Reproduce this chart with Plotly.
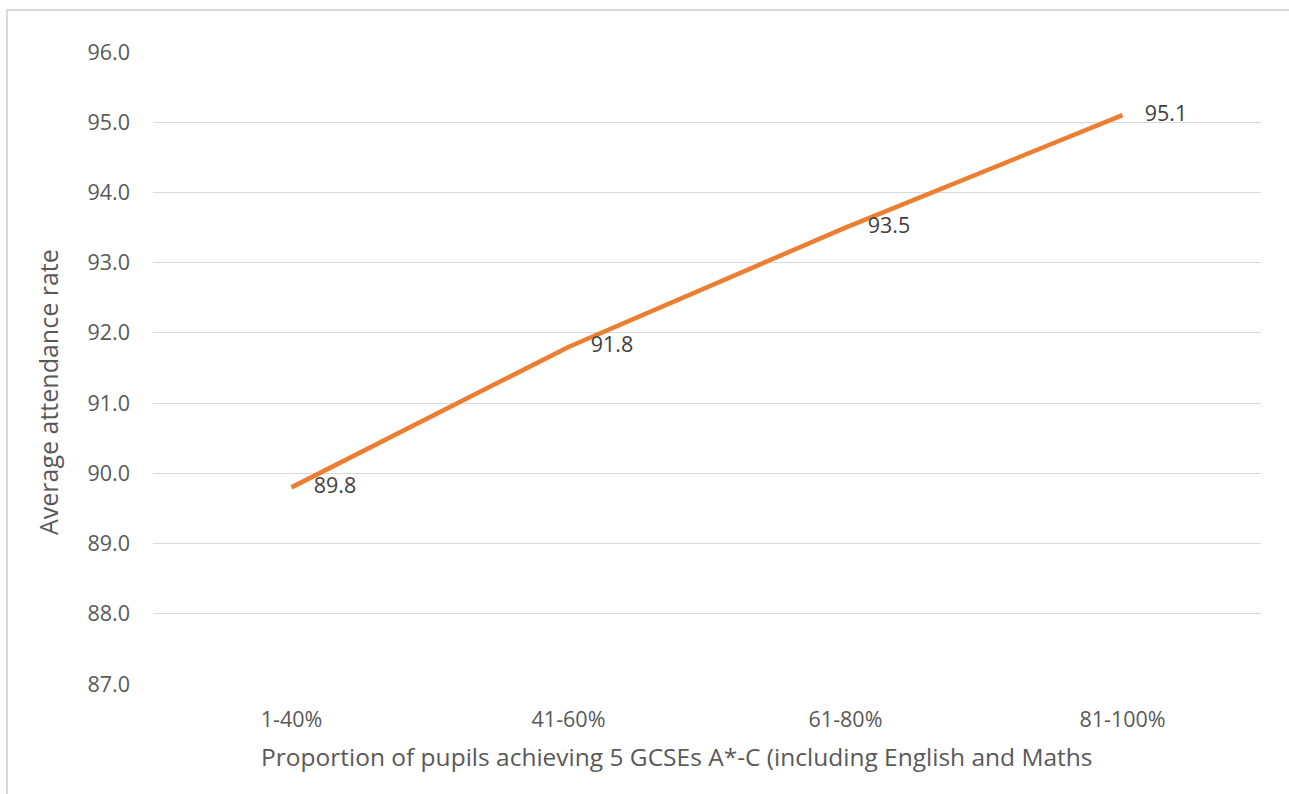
import plotly.graph_objects as go

categories = ["1-40%", "41-60%", "61-80%", "81-100%"]
attendance = [89.8, 91.8, 93.5, 95.1]
y_ticks = [87, 88, 89, 90, 91, 92, 93, 94, 95, 96]

W, H = 1289, 794
L, R, T, B = 153, 28, 52, 110
pw, ph = W - L - R, H - T - B

def px_x(p):
    return (p - L) / pw

def px_y(p):
    return (H - B - p) / ph

font = "Open Sans, Segoe UI, sans-serif"
grey = "#595959"

fig = go.Figure()
fig.add_trace(go.Scatter(
    x=categories, y=attendance, mode="lines+markers+text",
    line=dict(color="#ED7D31", width=4.5),
    marker=dict(size=34, color="rgba(0,0,0,0)", line=dict(width=0)),
    text=[f"{v:.1f}" for v in attendance],
    textposition="middle right",
    textfont=dict(family=font, size=21.5, color="#404040"),
    cliponaxis=False, showlegend=False, hoverinfo="skip",
))

fig.update_layout(
    width=W, height=H,
    margin=dict(l=L, r=R, t=T, b=B, pad=0),
    paper_bgcolor="white", plot_bgcolor="white",
    font=dict(family=font, size=21.5, color=grey),
    xaxis=dict(type="category", range=[-0.5, 3.5], showgrid=False, zeroline=False,
               showline=False, ticks="", ticklabelstandoff=20,
               tickfont=dict(size=21.5, color=grey)),
    yaxis=dict(range=[87, 96], tickvals=y_ticks, tickformat=".1f",
               showgrid=True, gridcolor="#D9D9D9", gridwidth=1,
               zeroline=False, showline=False, ticks="",
               ticklabelstandoff=22, tickfont=dict(size=21.5, color=grey)),
    annotations=[
        dict(text="Proportion of pupils achieving 5 GCSEs A*-C (including English and Maths",
             xref="paper", yref="paper", x=px_x(677), y=px_y(756),
             xanchor="center", yanchor="middle", showarrow=False,
             font=dict(size=24.5, color=grey)),
        dict(text="Average attendance rate", textangle=-90,
             xref="paper", yref="paper", x=px_x(48), y=px_y(392),
             xanchor="center", yanchor="middle", showarrow=False,
             font=dict(size=25, color=grey)),
    ],
    shapes=[dict(type="rect", xref="paper", yref="paper",
                 x0=px_x(7), x1=px_x(1300), y0=px_y(810), y1=px_y(10),
                 line=dict(color="#D9D9D9", width=2), layer="below")],
)

fig.write_html("out.html", config={"displayModeBar": False},
               post_script="document.body.style.margin='0';")
